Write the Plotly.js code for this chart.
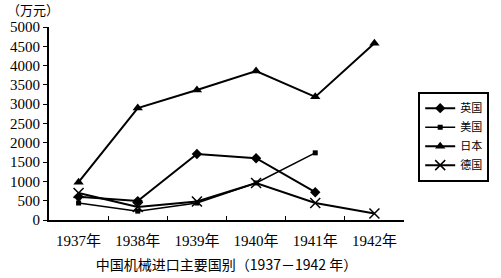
<!DOCTYPE html>
<html><head><meta charset="utf-8">
<script src="https://cdn.plot.ly/plotly-3.0.1.min.js"></script>
<style>body{margin:0;background:#fff}#c{width:501px;height:278px}</style>
</head><body><div id="c"></div>
<script>
const years = ["1937年","1938年","1939年","1940年","1941年","1942年"];
const britain = [600, 490, 1710, 1600, 720];
const usa = [440, 230, 440, 960, 1740];
const japan = [980, 2900, 3370, 3860, 3190, 4580];
const germany = [700, 340, 480, 960, 440, 170];
const names = ["英国","美国","日本","德国"];

const traces = [
  {x: years.slice(0, britain.length), y: britain, name: names[0], mode: "lines+markers",
   line: {color: "#000", width: 2}, marker: {symbol: "diamond", size: 8, color: "#000"}},
  {x: years.slice(0, usa.length), y: usa, name: names[1], mode: "lines+markers",
   line: {color: "#000", width: 1.5}, marker: {symbol: "square", size: 5, color: "#000"}},
  {x: years, y: japan, name: names[2], mode: "lines+markers",
   line: {color: "#000", width: 2}, marker: {symbol: "triangle-up", size: 9, color: "#000"}},
  {x: years, y: germany, name: names[3], mode: "lines+markers",
   line: {color: "#000", width: 2}, marker: {symbol: "x-thin-open", size: 10, color: "#000", line: {width: 1.5, color: "#000"}}}
];

const layout = {
  width: 501, height: 278,
  margin: {l: 49, r: 92, t: 27, b: 58},
  paper_bgcolor: "#fff", plot_bgcolor: "#fff",
  showlegend: true,
  legend: {x: 1.04, y: 0.665, xanchor: "left", yanchor: "top",
    bordercolor: "#000", borderwidth: 2, bgcolor: "#fff",
    font: {family: "Noto Sans CJK SC", size: 11, color: "#000"},
    tracegroupgap: 0, itemwidth: 30},
  xaxis: {type: "category", range: [-0.5, 5.5], showline: true, linecolor: "#000", linewidth: 2,
    ticks: "inside", tickson: "boundaries", ticklen: 4, tickcolor: "#000", tickwidth: 1,
    showgrid: false, zeroline: false, ticklabelstandoff: 6,
    tickfont: {family: "Liberation Serif, Noto Sans CJK SC", size: 15, color: "#000"},
    title: {text: "中国机械进口主要国别（1937－1942 年）", standoff: 12,
      font: {family: "Noto Sans CJK SC", size: 14, color: "#000"}}},
  yaxis: {range: [0, 5000], dtick: 500, showline: true, linecolor: "#000", linewidth: 2,
    ticks: "outside", ticklen: 4, tickcolor: "#000", showgrid: false, zeroline: false,
    tickfont: {family: "Liberation Serif", size: 15, color: "#000"}},
  annotations: [{text: "（万元）", xref: "paper", yref: "paper", x: -0.125, y: 1.0, yshift: 6,
    xanchor: "left", yanchor: "bottom", showarrow: false,
    font: {family: "Noto Sans CJK SC", size: 13, color: "#000"}}]
};
Plotly.newPlot("c", traces, layout, {displayModeBar: false});
</script></body></html>
